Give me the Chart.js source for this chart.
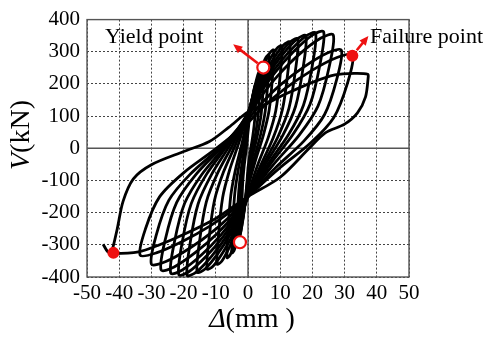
<!DOCTYPE html>
<html>
<head>
<meta charset="utf-8">
<script src="https://cdn.jsdelivr.net/npm/chart.js@4.4.1/dist/chart.umd.min.js"></script>
<style>
  html, body { margin: 0; padding: 0; background: #fff; }
  canvas { display: block; }
</style>
</head>
<body>
<canvas id="hysteresis" width="489" height="337"></canvas>
<script>
const xTicks = [-50, -40, -30, -20, -10, 0, 10, 20, 30, 40, 50];
const yTicks = [-400, -300, -200, -100, 0, 100, 200, 300, 400];

// load cycles, [displacement (mm), shear (kN)]
const cycle01 = [[0,-60],[0.75,-8],[1.5,39],[2.05,86],[2.38,148],[2.5,200],[2.13,194],[1.5,164],[0.88,125],[0.38,86],[0,50],[-0.6,-6],[-1.2,-56],[-1.64,-107],[-1.9,-174],[-2,-230],[-1.7,-223],[-1.2,-189],[-0.7,-145],[-0.3,-101],[0,-60]];
const cycle02 = [[0,-80],[1.14,-16],[2.28,42],[3.12,99],[3.61,176],[3.8,240],[3.23,233],[2.28,199],[1.33,155],[0.57,111],[0,70],[-0.84,1],[-1.68,-61],[-2.3,-123],[-2.66,-206],[-2.8,-275],[-2.38,-267],[-1.68,-228],[-0.98,-178],[-0.42,-127],[0,-80]];
const cycle03 = [[0,-90],[1.5,-20],[3,44],[4.1,107],[4.75,192],[5,262],[4.25,255],[3,218],[1.75,171],[0.75,124],[0,80],[-1.05,4],[-2.1,-64],[-2.87,-133],[-3.33,-224],[-3.5,-300],[-2.98,-292],[-2.1,-250],[-1.23,-195],[-0.53,-140],[0,-90]];
const cycle04 = [[0,-110],[1.95,-30],[3.9,42],[5.33,114],[6.18,210],[6.5,290],[5.53,282],[3.9,243],[2.28,193],[0.98,142],[0,95],[-1.5,11],[-3,-65],[-4.1,-140],[-4.75,-241],[-5,-325],[-4.25,-316],[-3,-273],[-1.75,-218],[-0.75,-162],[0,-110]];
const cycle05 = [[0,-120],[2.4,-35],[4.8,42],[6.56,118],[7.6,220],[8,305],[6.8,297],[4.8,256],[2.8,203],[1.2,149],[0,100],[-1.95,12],[-3.9,-67],[-5.33,-146],[-6.18,-252],[-6.5,-340],[-5.53,-331],[-3.9,-287],[-2.28,-230],[-0.98,-173],[0,-120]];
const cycle06 = [[0,-140],[3.15,-48],[6.3,34],[8.61,116],[9.98,226],[10.5,318],[8.93,310],[6.3,268],[3.68,214],[1.58,160],[0,110],[-2.88,16],[-5.76,-69],[-7.87,-153],[-9.12,-266],[-9.6,-360],[-8.16,-351],[-5.76,-307],[-3.36,-250],[-1.44,-193],[0,-140]];
const cycle07 = [[0,-150],[3.9,-54],[7.8,32],[10.66,119],[12.35,234],[13,330],[11.05,321],[7.8,277],[4.55,220],[1.95,163],[0,110],[-3.81,13],[-7.62,-74],[-10.41,-162],[-12.07,-278],[-12.7,-375],[-10.8,-366],[-7.62,-321],[-4.45,-263],[-1.91,-204],[0,-150]];
const cycle08 = [[0,-150],[4.65,-52],[9.3,36],[12.71,124],[14.73,242],[15.5,340],[13.18,331],[9.3,285],[5.43,225],[2.33,165],[0,110],[-4.74,11],[-9.48,-78],[-12.96,-167],[-15.01,-286],[-15.8,-385],[-13.43,-376],[-9.48,-329],[-5.53,-268],[-2.37,-206],[0,-150]];
const cycle09 = [[0,-150],[5.4,-50],[10.8,40],[14.76,130],[17.1,250],[18,350],[15.3,340],[10.8,292],[6.3,230],[2.7,168],[0,110],[-5.67,9],[-11.34,-82],[-15.5,-173],[-17.96,-294],[-18.9,-395],[-16.07,-385],[-11.34,-336],[-6.62,-273],[-2.84,-209],[0,-150]];
const cycle10 = [[0,-150],[6.3,-48],[12.6,43],[17.22,134],[19.95,256],[21,358],[17.85,348],[12.6,298],[7.35,234],[3.15,170],[0,110],[-6.45,9],[-12.9,-81],[-17.63,-172],[-20.43,-292],[-21.5,-393],[-18.28,-383],[-12.9,-335],[-7.53,-272],[-3.23,-208],[0,-150]];
const cycle11 = [[0,-150],[7.05,-48],[14.1,45],[19.27,137],[22.33,260],[23.5,362],[19.98,352],[14.1,300],[8.23,234],[3.53,167],[0,105],[-7.2,6],[-14.4,-82],[-19.68,-171],[-22.8,-289],[-24,-388],[-20.4,-378],[-14.4,-331],[-8.4,-269],[-3.6,-207],[0,-150]];
const cycle12 = [[0,-150],[7.95,-50],[15.9,41],[21.73,131],[25.18,252],[26.5,352],[22.53,342],[15.9,292],[9.28,226],[3.98,160],[0,100],[-8.1,4],[-16.2,-82],[-22.14,-168],[-25.65,-282],[-27,-378],[-22.95,-369],[-16.2,-323],[-9.45,-264],[-4.05,-205],[0,-150]];
const cycle13 = [[0,-150],[8.7,-59],[17.4,23],[23.78,105],[27.55,214],[29,305],[24.65,296],[17.4,253],[10.15,198],[4.35,142],[0,90],[-9,0],[-18,-81],[-24.6,-162],[-28.5,-270],[-30,-360],[-25.5,-352],[-18,-310],[-10.5,-255],[-4.5,-200],[0,-150]];
const cycle14 = [[0,-150],[9.75,-62],[19.5,17],[26.65,96],[30.88,202],[32.5,290],[27.63,282],[19.5,240],[11.38,185],[4.88,130],[0,80],[-10.05,-2],[-20.1,-77],[-27.47,-151],[-31.83,-250],[-33.5,-332],[-28.48,-325],[-20.1,-288],[-11.73,-241],[-5.03,-194],[0,-150]];
const cycle15 = [[-45,-298],[-43.5,-322],[-41.8,-327],[-34,-322],[-28,-302],[-20,-268],[-10,-218],[0,-150],[10,-90],[19,0],[24,48],[30,75],[34,110],[36.5,160],[37.3,218],[37.2,230],[33,233],[27,228],[20,205],[12,170],[5,135],[0,113],[-6,65],[-12,21],[-20,-10],[-30,-51],[-35.6,-95],[-38.8,-165],[-40.6,-250],[-42,-310],[-42.5,-322]];

const yieldPoints = [[4.75, 251], [-2.5, -292]];
const failurePoints = [[32.4, 288], [-41.8, -325]];
// arrow tips
const yieldArrowTip = [-4.6, 323];
const failureArrowTip = [37.4, 349];

const serif = "'Liberation Serif', 'Times New Roman', serif";
const red = '#ee1111';

const cycles = [cycle01, cycle02, cycle03, cycle04, cycle05, cycle06, cycle07, cycle08,
  cycle09, cycle10, cycle11, cycle12, cycle13, cycle14, cycle15];

const toXY = arr => arr.map(p => ({ x: p[0], y: p[1] }));

const loopSets = cycles.map(c => ({
  data: toXY(c),
  showLine: true,
  borderColor: '#000',
  borderWidth: 2.8,
  pointRadius: 0,
  tension: 0.3,
  order: 2
}));

function drawArrow(ctx, x0, y0, x1, y1) {
  const ang = Math.atan2(y1 - y0, x1 - x0);
  const head = 10;
  ctx.beginPath();
  ctx.moveTo(x0, y0);
  ctx.lineTo(x1 - head * 0.7 * Math.cos(ang), y1 - head * 0.7 * Math.sin(ang));
  ctx.stroke();
  ctx.beginPath();
  ctx.moveTo(x1, y1);
  ctx.lineTo(x1 - head * Math.cos(ang - 0.42), y1 - head * Math.sin(ang - 0.42));
  ctx.lineTo(x1 - head * Math.cos(ang + 0.42), y1 - head * Math.sin(ang + 0.42));
  ctx.closePath();
  ctx.fill();
}

const decorations = {
  id: 'decorations',
  beforeDatasetsDraw(chart) {
    const { ctx, chartArea: a, scales: { x, y } } = chart;
    ctx.save();
    ctx.strokeStyle = '#555';
    ctx.lineWidth = 1.4;
    ctx.beginPath();
    ctx.moveTo(x.getPixelForValue(0), a.top);
    ctx.lineTo(x.getPixelForValue(0), a.bottom);
    ctx.moveTo(a.left, y.getPixelForValue(0));
    ctx.lineTo(a.right, y.getPixelForValue(0));
    ctx.stroke();
    ctx.strokeRect(a.left, a.top, a.right - a.left, a.bottom - a.top);
    ctx.restore();
  },
  afterDatasetsDraw(chart) {
    const { ctx, scales: { x, y } } = chart;
    ctx.save();
    ctx.strokeStyle = red;
    ctx.fillStyle = red;
    ctx.lineWidth = 2.6;
    [[yieldPoints[0], yieldArrowTip], [failurePoints[0], failureArrowTip]].forEach(([from, to]) => {
      const px0 = x.getPixelForValue(from[0]), py0 = y.getPixelForValue(from[1]);
      const px1 = x.getPixelForValue(to[0]), py1 = y.getPixelForValue(to[1]);
      const len = Math.hypot(px1 - px0, py1 - py0);
      const sx = px0 + (px1 - px0) * 7 / len, sy = py0 + (py1 - py0) * 7 / len;
      drawArrow(ctx, sx, sy, px1, py1);
    });
    ctx.restore();
  },
  afterDraw(chart) {
    const { ctx, scales: { x, y } } = chart;
    ctx.save();
    ctx.fillStyle = '#000';
    ctx.textBaseline = 'middle';
    ctx.textAlign = 'left';
    ctx.font = '22px ' + serif;
    ctx.fillText('Yield point', x.getPixelForValue(-44.4), y.getPixelForValue(344));
    ctx.fillText('Failure point', x.getPixelForValue(37.9), y.getPixelForValue(344));

    // y title: italic V + (kN), rotated
    ctx.font = 'italic 28px ' + serif;
    const wV = ctx.measureText('V').width;
    ctx.font = '28px ' + serif;
    const wK = ctx.measureText('(kN)').width;
    ctx.translate(22, 135);
    ctx.rotate(-Math.PI / 2);
    let sx = -(wV + wK) / 2;
    ctx.font = 'italic 28px ' + serif;
    ctx.fillText('V', sx, 0);
    ctx.font = '28px ' + serif;
    ctx.fillText('(kN)', sx + wV, 0);
    ctx.setTransform(1, 0, 0, 1, 0, 0);

    // x title: italic delta + (mm )
    ctx.font = 'italic 28px ' + serif;
    const wD = ctx.measureText('\u0394').width;
    ctx.font = '28px ' + serif;
    const wM = ctx.measureText('(mm )').width;
    sx = 252 - (wD + wM) / 2;
    ctx.font = 'italic 28px ' + serif;
    ctx.fillText('\u0394', sx, 320);
    ctx.font = '28px ' + serif;
    ctx.fillText('(mm )', sx + wD, 320);
    ctx.restore();
  }
};

const gridStyle = {
  color: '#444',
  lineWidth: 1,
  drawTicks: false
};

const ctx = document.getElementById('hysteresis').getContext('2d');

const hysteresisChart = new Chart(ctx, {
  type: 'scatter',
  data: {
    datasets: [
      {
        data: toXY(yieldPoints),
        pointRadius: 6,
        pointBorderWidth: 2.2,
        pointBorderColor: red,
        pointBackgroundColor: '#fff',
        order: 0
      },
      {
        data: toXY(failurePoints),
        pointRadius: 6,
        pointBorderWidth: 0,
        pointBackgroundColor: red,
        pointBorderColor: red,
        order: 0
      },
      ...loopSets
    ]
  },
  options: {
    responsive: false,
    animation: false,
    layout: { padding: { top: 17, right: 80, left: 0, bottom: 0 } },
    plugins: { legend: { display: false }, tooltip: { enabled: false } },
    scales: {
      x: {
        type: 'linear',
        min: -50,
        max: 50,
        afterBuildTicks: s => { s.ticks = xTicks.map(v => ({ value: v })); },
        afterFit: s => { s.height = 60; },
        ticks: { color: '#000', font: { family: serif, size: 21 }, padding: 4, maxRotation: 0, autoSkip: false },
        grid: gridStyle,
        border: { display: false, dash: [2, 2] }
      },
      y: {
        type: 'linear',
        min: -400,
        max: 400,
        afterBuildTicks: s => { s.ticks = yTicks.map(v => ({ value: v })); },
        afterFit: s => { s.width = 87; },
        ticks: { color: '#000', font: { family: serif, size: 21 }, padding: 7, autoSkip: false },
        grid: gridStyle,
        border: { display: false, dash: [2, 2] }
      }
    }
  },
  plugins: [decorations]
});
</script>
</body>
</html>
